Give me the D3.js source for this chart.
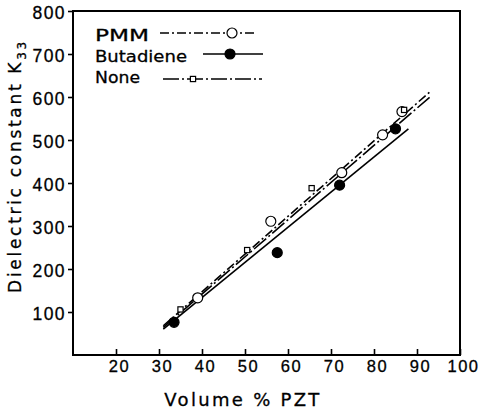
<!DOCTYPE html>
<html>
<head>
<meta charset="utf-8">
<script src="https://cdn.jsdelivr.net/npm/d3@7"></script>
<style>
  body { margin: 0; background: #fff; }
  svg { display: block; font-family: "DejaVu Sans", sans-serif; }
</style>
</head>
<body>
<div id="vis"><svg width="488" height="409"></svg></div>
<script>
// chart data
const xTicks = [20, 30, 40, 50, 60, 70, 80, 90, 100];
const yTicks = [100, 200, 300, 400, 500, 600, 700, 800];

const seriesNames = ["PMM", "Butadiene", "None"];

// measured points [volume % PZT, K33]
const pmmPoints = [[39, 133], [56, 311], [72.5, 424], [82, 512], [86.5, 566]];
const butadienePoints = [[33.5, 76], [57.5, 238], [72, 395], [85, 526]];
const nonePoints = [[35, 106], [50.5, 244], [65.5, 388], [87, 570]];

// fitted straight lines [start, end]
const pmmFit = [[31, 68], [93, 612]];
const butadieneFit = [[31, 60], [88, 526]];
const noneFit = [[31, 64], [93, 600]];

const svg = d3.select("#vis").select("svg");

const x = d3.scaleLinear().domain([10, 100]).range([73, 460]);
const y = d3.scaleLinear().domain([0, 800]).range([355, 11]);

const styles = {
  PMM: { dash: "9,3,2,3", marker: "circle", fill: "#fff", r: 5 },
  Butadiene: { dash: null, marker: "circle", fill: "#000", r: 5 },
  None: { dash: "16,3,2,3", marker: "square", fill: "#fff", r: 2.6 }
};

const series = [
  { key: "PMM", points: pmmPoints, fit: pmmFit },
  { key: "Butadiene", points: butadienePoints, fit: butadieneFit },
  { key: "None", points: nonePoints, fit: noneFit }
];

// frame
svg.append("rect")
  .attr("x", x(10))
  .attr("y", y(800))
  .attr("width", x(100) - x(10))
  .attr("height", y(0) - y(800))
  .attr("fill", "none")
  .attr("stroke", "#000")
  .attr("stroke-width", 2);

const yAxis = svg.append("g")
  .attr("transform", `translate(${x(10)},0)`)
  .call(d3.axisLeft(y).tickValues(yTicks).tickSize(5).tickPadding(2));

const xAxis = svg.append("g")
  .attr("transform", `translate(0,${y(0)})`)
  .call(d3.axisBottom(x).tickValues(xTicks).tickSizeInner(-6).tickSizeOuter(0).tickPadding(5));

[xAxis, yAxis].forEach(g => {
  g.select(".domain").remove();
  g.selectAll(".tick line").attr("stroke", "#000").attr("stroke-width", 1.6);
  g.selectAll(".tick text")
    .attr("fill", "#000")
    .style("stroke", "#000")
    .style("stroke-width", 0.3);
});
yAxis.selectAll(".tick text")
  .attr("dy", "0.45em")
  .style("font-size", "17.5px")
  .style("letter-spacing", "1.4px");
xAxis.selectAll(".tick text")
  .attr("dx", 3)
  .style("font-size", "16.5px")
  .style("letter-spacing", "1.5px");

// axis titles
svg.append("text")
  .attr("x", 243)
  .attr("y", 406)
  .attr("text-anchor", "middle")
  .style("font-size", "18px")
  .style("letter-spacing", "2.3px")
  .style("stroke", "#000")
  .style("stroke-width", 0.3)
  .text("Volume % PZT");

const yTitle = svg.append("text")
  .attr("transform", "translate(21,166) rotate(-90)")
  .attr("text-anchor", "middle")
  .style("font-size", "17px")
  .style("letter-spacing", "2.7px")
  .style("stroke", "#000")
  .style("stroke-width", 0.3);
yTitle.append("tspan").text("Dielectric constant K");
yTitle.append("tspan").attr("dy", 5).style("font-size", "12px").text("33");

// fitted lines
const line = d3.line().x(d => x(d[0])).y(d => y(d[1]));

svg.append("g").selectAll("path")
  .data(series)
  .join("path")
  .attr("d", d => line(d.fit))
  .attr("fill", "none")
  .attr("stroke", "#000")
  .attr("stroke-width", 1.6)
  .attr("stroke-dasharray", d => styles[d.key].dash);

function drawMarker(g, key) {
  const s = styles[key];
  if (s.marker === "square") {
    g.append("rect")
      .attr("x", -s.r).attr("y", -s.r)
      .attr("width", s.r * 2).attr("height", s.r * 2)
      .attr("fill", s.fill).attr("stroke", "#000").attr("stroke-width", 1.2);
  } else {
    g.append("circle")
      .attr("r", s.r)
      .attr("fill", s.fill).attr("stroke", "#000").attr("stroke-width", 1.2);
  }
}

series.forEach(sr => {
  svg.append("g").selectAll("g")
    .data(sr.points)
    .join("g")
    .attr("transform", d => `translate(${x(d[0])},${y(d[1])})`)
    .each(function () { drawMarker(d3.select(this), sr.key); });
});

// legend
const legendRows = [
  { y: 35, x1: 160, x2: 257, mx: 232, len: 54 },
  { y: 56, x1: 203, x2: 263, mx: 230, len: 92 },
  { y: 77, x1: 163, x2: 262, mx: 193, len: 45 }
];

const legend = svg.append("g").selectAll("g")
  .data(seriesNames)
  .join("g")
  .attr("transform", (d, i) => `translate(0,${legendRows[i].y})`);

legend.append("text")
  .attr("x", 95)
  .attr("dy", "0.36em")
  .attr("textLength", (d, i) => legendRows[i].len)
  .attr("lengthAdjust", "spacingAndGlyphs")
  .style("font-size", "16.5px")
  .style("stroke", "#000")
  .style("stroke-width", 0.3)
  .text(d => d);

legend.append("line")
  .attr("x1", (d, i) => legendRows[i].x1)
  .attr("x2", (d, i) => legendRows[i].x2)
  .attr("y1", (d, i) => i === 2 ? 2 : -2)
  .attr("y2", (d, i) => i === 2 ? 2 : -2)
  .attr("stroke", "#000")
  .attr("stroke-width", 1.6)
  .attr("stroke-dasharray", d => styles[d].dash);

legend.append("g")
  .attr("transform", (d, i) => `translate(${legendRows[i].mx},${i === 2 ? 2 : -2})`)
  .each(function (d) { drawMarker(d3.select(this), d); });
</script>
</body>
</html>
